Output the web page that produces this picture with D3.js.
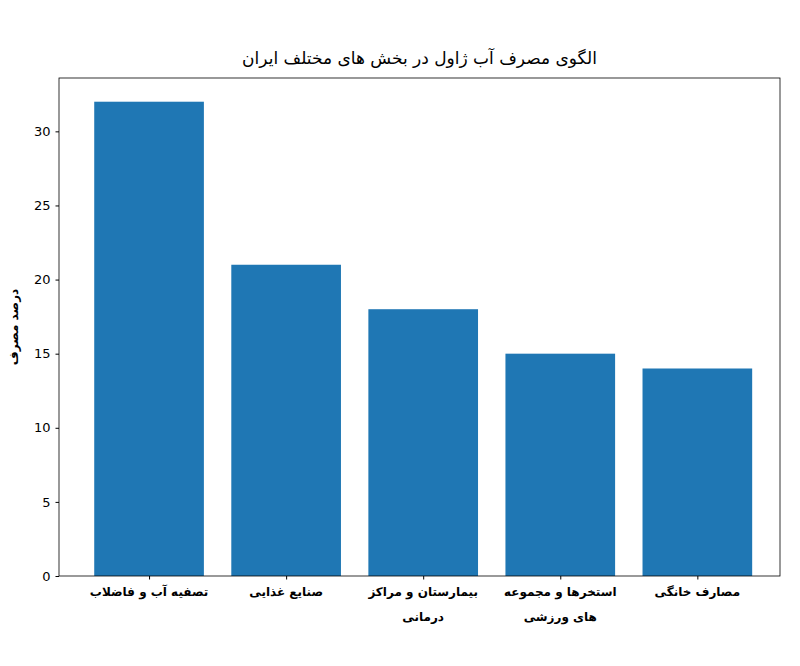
<!DOCTYPE html>
<html><head><meta charset="utf-8">
<script src="https://cdn.jsdelivr.net/npm/d3@7"></script>
<style>body{margin:0;background:#fff}</style></head>
<body><svg id="c" width="800" height="666"></svg>
<script>
const categories = [["تصفیه آب و فاضلاب"], ["صنایع غذایی"], ["بیمارستان و مراکز","درمانی"], ["استخرها و مجموعه","های ورزشی"], ["مصارف خانگی"]];
const values = [32, 21, 18, 15, 14];
const yTicks = [0, 5, 10, 15, 20, 25, 30];
const title = "الگوی مصرف آب ژاول در بخش های مختلف ایران";
const yLabel = "درصد مصرف";

const svg = d3.select("#c");
const L = 59, R = 780, T = 78, B = 576;
const x = d3.scaleLinear().domain([-0.657, 4.603]).range([L, R]);
const y = d3.scaleLinear().domain([0, 33.6]).range([B, T]);
const bw = x(0.8) - x(0);
const font = "DejaVu Sans, sans-serif";

svg.selectAll("rect.bar").data(values).join("rect")
  .attr("x", (d, i) => x(i) - bw / 2).attr("width", bw)
  .attr("y", d => y(d)).attr("height", d => y(0) - y(d))
  .attr("fill", "#1f77b4");

svg.append("rect").attr("x", L).attr("y", T).attr("width", R - L).attr("height", B - T)
  .attr("fill", "none").attr("stroke", "#000").attr("stroke-width", 0.8);

const ya = svg.append("g").attr("transform", `translate(${L},0)`)
  .call(d3.axisLeft(y).tickValues(yTicks).tickSize(3.5).tickPadding(5));
ya.select(".domain").remove();
ya.selectAll("text").attr("font-family", font).attr("font-size", 13).attr("fill", "#000");

const xa = svg.append("g").attr("transform", `translate(0,${B})`)
  .call(d3.axisBottom(x).tickValues(d3.range(5)).tickSize(3.5).tickFormat(""));
xa.select(".domain").remove();

categories.forEach((lines, i) => {
  lines.forEach((t, j) => {
    svg.append("text").attr("x", x(i)).attr("y", B + 20 + j * 25)
      .attr("text-anchor", "middle").attr("font-family", font).attr("font-size", 12)
      .attr("font-weight", "bold").attr("direction", "rtl").text(t);
  });
});

svg.append("text").attr("x", (L + R) / 2).attr("y", 64).attr("text-anchor", "middle")
  .attr("font-family", font).attr("font-size", 17).attr("direction", "rtl").text(title);

svg.append("text").attr("transform", `translate(18,${(T + B) / 2}) rotate(-90)`)
  .attr("text-anchor", "middle").attr("font-family", font).attr("font-size", 12)
  .attr("font-weight", "bold").attr("direction", "rtl").text(yLabel);
</script></body></html>
